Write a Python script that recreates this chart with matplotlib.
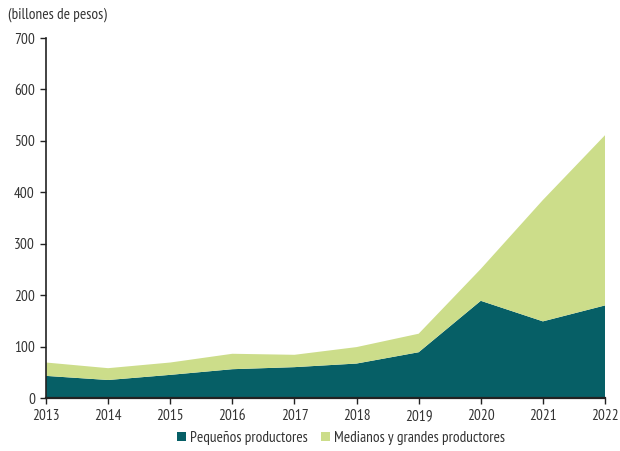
import matplotlib
matplotlib.use("Agg")
import matplotlib.pyplot as plt
from matplotlib.patches import Patch

plt.rcParams['font.family'] = ['PT Sans Narrow', 'DejaVu Sans']

years = [2013, 2014, 2015, 2016, 2017, 2018, 2019, 2020, 2021, 2022]
pequenos = [43, 35, 45, 56, 60, 67, 89, 189, 149, 180]
medianos_grandes = [26, 23, 24, 30, 24, 32, 36, 62, 236, 331]

dark = '#065F66'
light = '#CCDD8A'
text_color = '#333333'

W, H = 620, 451
fig = plt.figure(figsize=(W / 100, H / 100), dpi=100)
ax = fig.add_axes([46 / W, 53 / H, 559 / W, 360 / H])

ax.stackplot(years, pequenos, medianos_grandes, colors=[dark, light], linewidth=0)

ax.set_xlim(2013, 2022)
ax.set_ylim(0, 700)
ax.set_xticks(years)
ax.set_yticks(range(0, 701, 100))

for s in ['top', 'right']:
    ax.spines[s].set_visible(False)
ax.spines['left'].set_color('#222222')
ax.spines['bottom'].set_color('#222222')
ax.spines['left'].set_linewidth(1.2)
ax.spines['bottom'].set_linewidth(1.6)
ax.tick_params(axis='both', direction='out', length=4, width=1, color='#222222',
               labelsize=11, labelcolor=text_color)
ax.tick_params(axis='x', pad=4)
ax.tick_params(axis='y', pad=4)

fig.text(8 / W, 1 - 15 / H, '(billones de pesos)', fontsize=11, color=text_color,
         va='center', ha='left')

handles = [Patch(facecolor=dark, label='Pequeños productores'),
           Patch(facecolor=light, label='Medianos y grandes productores')]
fig.legend(handles=handles, loc='center', bbox_to_anchor=(341 / W, 13 / H),
           ncol=2, frameon=False, fontsize=11, handlelength=0.6, handleheight=0.6,
           handletextpad=0.25, columnspacing=0.9, labelcolor=text_color,
           borderpad=0, borderaxespad=0)

fig.savefig('out.png', dpi=100)
